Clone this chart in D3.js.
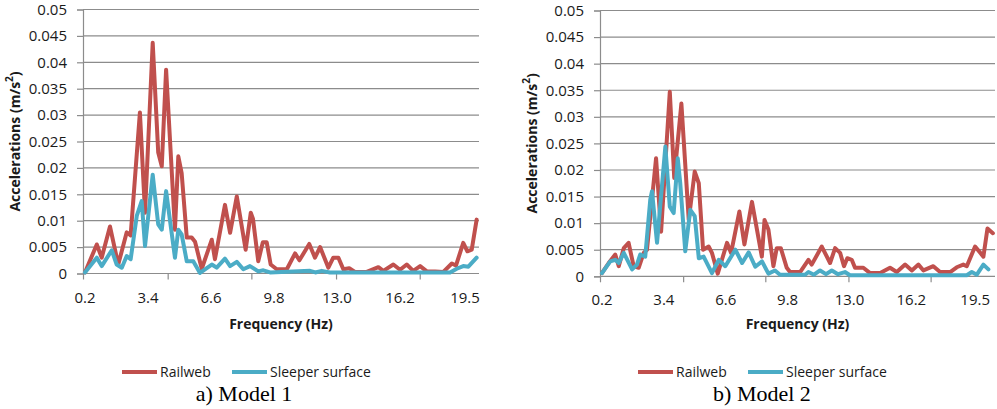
<!DOCTYPE html>
<html>
<head>
<meta charset="utf-8">
<script src="https://cdn.jsdelivr.net/npm/d3@7"></script>
<style>
  body { margin: 0; background: #fff; }
  svg { display: block; }
</style>
</head>
<body>
<div id="chart"></div>
<script>
// data: frequency (Hz) / acceleration (m/s2) at each vertex
const yTicks = [0, 0.005, 0.01, 0.015, 0.02, 0.025, 0.03, 0.035, 0.04, 0.045, 0.05];
const xLabels = [0.2, 3.4, 6.6, 9.8, 13.0, 16.2, 19.5];
const xTickMarks = [0.2, 4.5, 8.75, 13.05, 17.3];
const seriesNames = ["Railweb", "Sleeper surface"];
const seriesColors = ["#c0504d", "#4bacc6"];

// Model 1
const railFreq1 = [0.30, 0.90, 1.15, 1.57, 1.99, 2.42, 2.62, 3.09, 3.35, 3.74, 4.02, 4.20, 4.42, 4.87, 5.04, 5.21, 5.47, 5.72, 5.89, 6.23, 6.74, 6.90, 7.41, 7.67, 8.01, 8.46, 8.72, 8.83, 9.10, 9.33, 9.53, 9.73, 10.04, 10.55, 10.97, 11.19, 11.69, 11.98, 12.24, 12.66, 12.91, 13.17, 13.42, 13.72, 14.01, 14.61, 15.20, 15.45, 15.96, 16.30, 16.64, 16.97, 17.32, 17.66, 18.08, 18.50, 18.93, 19.14, 19.51, 19.72, 19.94, 20.19];
const rail1 = [0.0002, 0.0055, 0.0030, 0.0089, 0.0017, 0.0078, 0.0072, 0.0305, 0.0115, 0.0437, 0.0229, 0.0203, 0.0386, 0.0083, 0.0222, 0.0190, 0.0068, 0.0068, 0.0060, 0.0009, 0.0064, 0.0027, 0.0130, 0.0077, 0.0146, 0.0045, 0.0115, 0.0104, 0.0023, 0.0059, 0.0059, 0.0017, 0.0008, 0.0008, 0.0038, 0.0025, 0.0056, 0.0030, 0.0050, 0.0011, 0.0030, 0.0030, 0.0008, 0.0010, 0.0003, 0.0003, 0.0012, 0.0005, 0.0017, 0.0007, 0.0017, 0.0005, 0.0014, 0.0004, 0.0004, 0.0003, 0.0019, 0.0015, 0.0058, 0.0042, 0.0045, 0.0102];
const sleeperFreq1 = [0.30, 0.90, 1.15, 1.66, 1.91, 2.17, 2.42, 2.62, 2.93, 3.18, 3.35, 3.74, 4.02, 4.20, 4.42, 4.87, 5.04, 5.21, 5.47, 5.80, 6.14, 6.74, 6.99, 7.41, 7.67, 8.01, 8.34, 8.68, 9.10, 9.36, 9.70, 11.73, 12.00, 12.32, 12.74, 18.84, 19.18, 19.51, 19.77, 20.19];
const sleeper1 = [0.0002, 0.0030, 0.0014, 0.0044, 0.0017, 0.0011, 0.0033, 0.0027, 0.0109, 0.0137, 0.0052, 0.0187, 0.0093, 0.0083, 0.0156, 0.0030, 0.0083, 0.0074, 0.0023, 0.0023, 0.0001, 0.0017, 0.0011, 0.0028, 0.0014, 0.0022, 0.0008, 0.0014, 0.0004, 0.0006, 0.0002, 0.0005, 0.0002, 0.0005, 0.0002, 0.0002, 0.0009, 0.0014, 0.0013, 0.0030];

// Model 2
const railFreq2 = [0.30, 0.65, 0.99, 1.17, 1.43, 1.68, 1.94, 2.20, 2.46, 2.63, 3.10, 3.36, 3.81, 4.04, 4.41, 4.79, 5.10, 5.31, 5.53, 5.82, 5.99, 6.29, 6.77, 6.98, 7.41, 7.67, 8.06, 8.57, 8.71, 8.91, 9.17, 9.34, 9.55, 9.86, 10.03, 10.55, 10.98, 11.15, 11.67, 12.10, 12.36, 12.62, 12.82, 12.99, 13.22, 13.39, 13.82, 14.17, 14.69, 15.20, 15.55, 15.98, 16.33, 16.67, 16.93, 17.44, 17.79, 18.31, 18.65, 18.99, 19.17, 19.60, 20.03, 20.24, 20.52];
const rail2 = [0.0006, 0.0025, 0.0041, 0.0019, 0.0053, 0.0063, 0.0019, 0.0016, 0.0044, 0.0050, 0.0222, 0.0084, 0.0347, 0.0185, 0.0325, 0.0106, 0.0197, 0.0175, 0.0050, 0.0056, 0.0044, 0.0005, 0.0063, 0.0044, 0.0122, 0.0060, 0.0140, 0.0037, 0.0106, 0.0088, 0.0019, 0.0053, 0.0053, 0.0016, 0.0008, 0.0008, 0.0031, 0.0022, 0.0056, 0.0025, 0.0053, 0.0044, 0.0019, 0.0034, 0.0031, 0.0016, 0.0016, 0.0006, 0.0006, 0.0016, 0.0008, 0.0022, 0.0011, 0.0022, 0.0011, 0.0019, 0.0008, 0.0008, 0.0017, 0.0022, 0.0019, 0.0056, 0.0037, 0.0090, 0.0081];
const sleeperFreq2 = [0.30, 0.73, 0.99, 1.17, 1.43, 1.86, 2.11, 2.28, 2.54, 2.80, 2.89, 3.15, 3.58, 3.81, 4.01, 4.22, 4.35, 4.61, 4.87, 5.10, 5.31, 5.56, 5.99, 6.34, 6.68, 7.20, 7.55, 7.89, 8.23, 8.58, 8.91, 9.25, 9.51, 10.81, 10.98, 11.27, 11.58, 11.89, 12.19, 12.51, 12.87, 13.13, 19.17, 19.43, 19.69, 20.03, 20.29];
const sleeper2 = [0.0006, 0.0028, 0.0031, 0.0025, 0.0044, 0.0013, 0.0022, 0.0041, 0.0037, 0.0144, 0.0160, 0.0063, 0.0244, 0.0131, 0.0119, 0.0222, 0.0175, 0.0047, 0.0125, 0.0113, 0.0034, 0.0037, 0.0006, 0.0031, 0.0019, 0.0050, 0.0025, 0.0045, 0.0018, 0.0028, 0.0005, 0.0011, 0.0003, 0.0003, 0.0008, 0.0003, 0.0011, 0.0004, 0.0011, 0.0004, 0.0008, 0.0002, 0.0002, 0.0008, 0.0003, 0.0022, 0.0013];

const charts = [
  {
    left: 83, right: 479, top: 9.5, bottom: 273.5, xMax: 20.31,
    series: [[railFreq1, rail1], [sleeperFreq1, sleeper1]],
    legendX: 122, caption: "a) Model 1", captionX: 244
  },
  {
    left: 600, right: 995, top: 10.5, bottom: 276.3, xMax: 20.63,
    series: [[railFreq2, rail2], [sleeperFreq2, sleeper2]],
    legendX: 638, caption: "b) Model 2", captionX: 762
  }
];

const svg = d3.select("#chart")
  .append("svg")
  .attr("width", 997)
  .attr("height", 409);

const font = "'Open Sans', sans-serif";
const textColor = "#1a1a1a";
const gridColor = "#8c8c8c";

charts.forEach(c => {
  const g = svg.append("g");

  const x = d3.scaleLinear().domain([0.2, c.xMax]).range([c.left, c.right]);
  const y = d3.scaleLinear().domain([0, 0.05]).range([c.bottom, c.top]);

  // horizontal gridlines
  g.selectAll(".grid")
    .data(yTicks.slice(1))
    .enter()
    .append("line")
    .attr("x1", c.left).attr("x2", c.right)
    .attr("y1", d => y(d)).attr("y2", d => y(d))
    .attr("stroke", gridColor)
    .attr("stroke-width", 1.2);

  // y axis
  const yAxis = g.append("g")
    .attr("transform", `translate(${c.left},0)`)
    .call(d3.axisLeft(y).tickValues(yTicks).tickSize(6).tickPadding(10).tickFormat(d => d3.format("")(+d.toFixed(3))));
  yAxis.select(".domain").attr("stroke", gridColor).attr("stroke-width", 1.2);
  yAxis.selectAll(".tick line").attr("stroke", gridColor).attr("stroke-width", 1.2);
  yAxis.selectAll("text")
    .attr("font-family", font)
    .attr("font-size", "15px")
    .attr("fill", textColor);

  // x axis
  const xAxis = g.append("g")
    .attr("transform", `translate(0,${c.bottom})`)
    .call(d3.axisBottom(x).tickValues(xTickMarks).tickSize(6).tickFormat(""));
  xAxis.select(".domain").attr("stroke", gridColor).attr("stroke-width", 1.2)
    .attr("d", `M${c.left},0H${c.right}`);
  xAxis.selectAll(".tick line").attr("stroke", gridColor).attr("stroke-width", 1.2);

  g.selectAll(".xlab")
    .data(xLabels)
    .enter()
    .append("text")
    .attr("x", d => x(d) + 2)
    .attr("y", c.bottom + 29)
    .attr("text-anchor", "middle")
    .attr("font-family", font)
    .attr("font-size", "15px")
    .attr("fill", textColor)
    .text(d => d.toFixed(1));

  // axis titles
  const midX = (c.left + c.right) / 2;
  g.append("text")
    .attr("x", midX)
    .attr("y", 329)
    .attr("text-anchor", "middle")
    .attr("font-family", font)
    .attr("font-weight", "bold")
    .attr("font-size", "14px")
    .attr("fill", textColor)
    .text("Frequency (Hz)");

  const yt = g.append("text")
    .attr("transform", `translate(${c.left - 63},${(c.top + c.bottom) / 2}) rotate(-90)`)
    .attr("text-anchor", "middle")
    .attr("font-family", font)
    .attr("font-weight", "bold")
    .attr("font-size", "14px")
    .attr("fill", textColor);
  yt.append("tspan").text("Accelerations (m/s");
  yt.append("tspan").attr("baseline-shift", "super").attr("font-size", "10px").text("2");
  yt.append("tspan").text(")");

  // lines
  const line = d3.line()
    .x(d => x(d[0]))
    .y(d => y(d[1]));

  c.series.forEach(([freq, vals], i) => {
    g.append("path")
      .datum(freq.map((f, k) => [f, vals[k]]))
      .attr("fill", "none")
      .attr("stroke", seriesColors[i])
      .attr("stroke-width", 4)
      .attr("stroke-linejoin", "round")
      .attr("stroke-linecap", "round")
      .attr("d", line);
  });

  // legend
  const legendY = 372;
  const offsets = [0, 110];
  seriesNames.forEach((name, i) => {
    const lx = c.legendX + offsets[i];
    g.append("line")
      .attr("x1", lx).attr("x2", lx + 35)
      .attr("y1", legendY).attr("y2", legendY)
      .attr("stroke", seriesColors[i])
      .attr("stroke-width", 4);
    g.append("text")
      .attr("x", lx + 38)
      .attr("y", legendY + 5)
      .attr("font-family", font)
      .attr("font-size", "14px")
      .attr("fill", textColor)
      .text(name);
  });

  // caption
  g.append("text")
    .attr("x", c.captionX)
    .attr("y", 401)
    .attr("text-anchor", "middle")
    .attr("font-family", "'Liberation Serif', 'Times New Roman', serif")
    .attr("font-size", "22px")
    .attr("fill", "#000")
    .text(c.caption);
});
</script>
</body>
</html>
